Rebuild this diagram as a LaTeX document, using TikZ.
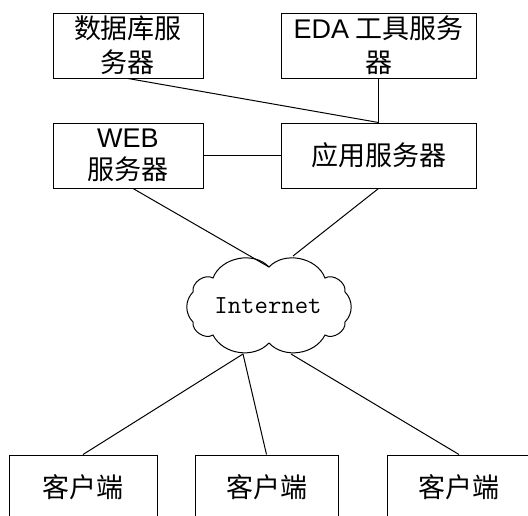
\documentclass[tikz,border=0pt]{standalone}
\usepackage{fontspec}
\setmainfont{Liberation Sans}
\newfontfamily\cjk{Noto Sans CJK SC}
\usetikzlibrary{calc}
\begin{document}
\begin{tikzpicture}[x=1pt,y=-1pt,
  box/.style={draw, line width=1pt, inner sep=0pt, minimum height=65pt, align=center,
              font=\fontsize{27}{34}\selectfont\cjk},
  conn/.style={line width=1pt},
  cloudline/.style={line width=1pt, line join=miter},
  puff/.style={bend left=#1}]
\clip (0,0) rectangle (528,515);
\fill[white] (0,0) rectangle (528,515);

% servers
\node[box, minimum width=150pt] (db)  at (128,45.5)   {数据库服\\务器};
\node[box, minimum width=195pt] (eda) at (378.5,45.5) {{\rmfamily EDA} 工具服务\\器};
\node[box, minimum width=150pt, font=\fontsize{27}{32}\selectfont\cjk] (web) at (128,155.5) {{\rmfamily WEB}\\服务器};
\node[box, minimum width=195pt] (app) at (378.5,155.5) {应用服务器};

% clients
\node[box, minimum width=148pt] (c1) at (83,487.5)    {客户端};
\node[box, minimum width=143pt] (c2) at (266.5,487.5) {客户端};
\node[box, minimum width=144pt] (c3) at (459,487.5)   {客户端};

% cloud
\draw[cloudline] (269,267) to[puff=58] (325,278) to[puff=65] (345,292) to[puff=45] (345,322)
  to[puff=65] (325,335) to[puff=55] (269,343) to[puff=55] (213,335) to[puff=65] (193,322)
  to[puff=45] (193,292) to[puff=65] (213,278) to[puff=58] (269,267) -- cycle;
\node[font=\fontsize{26}{30}\selectfont\ttfamily, inner sep=0pt] (inet) at (268,306) {Internet};
\coordinate (cT) at (269,267);
\coordinate (cR) at (293,256);
\coordinate (cBL) at (243,354);
\coordinate (cBR) at (291,354);
\coordinate (webout) at ($(web.south)+(5,0)$);

% connectors
\draw[conn] (db.south) -- (app.north);
\draw[conn] (eda.south) -- (app.north);
\draw[conn] (web.east) -- (app.west);
\draw[conn] (webout) -- (cT);
\draw[conn] (app.south) -- (cR);
\draw[conn] (cBL) -- (c1.north);
\draw[conn] (cBL) -- (c2.north);
\draw[conn] (cBR) -- (c3.north);
\end{tikzpicture}
\end{document}
